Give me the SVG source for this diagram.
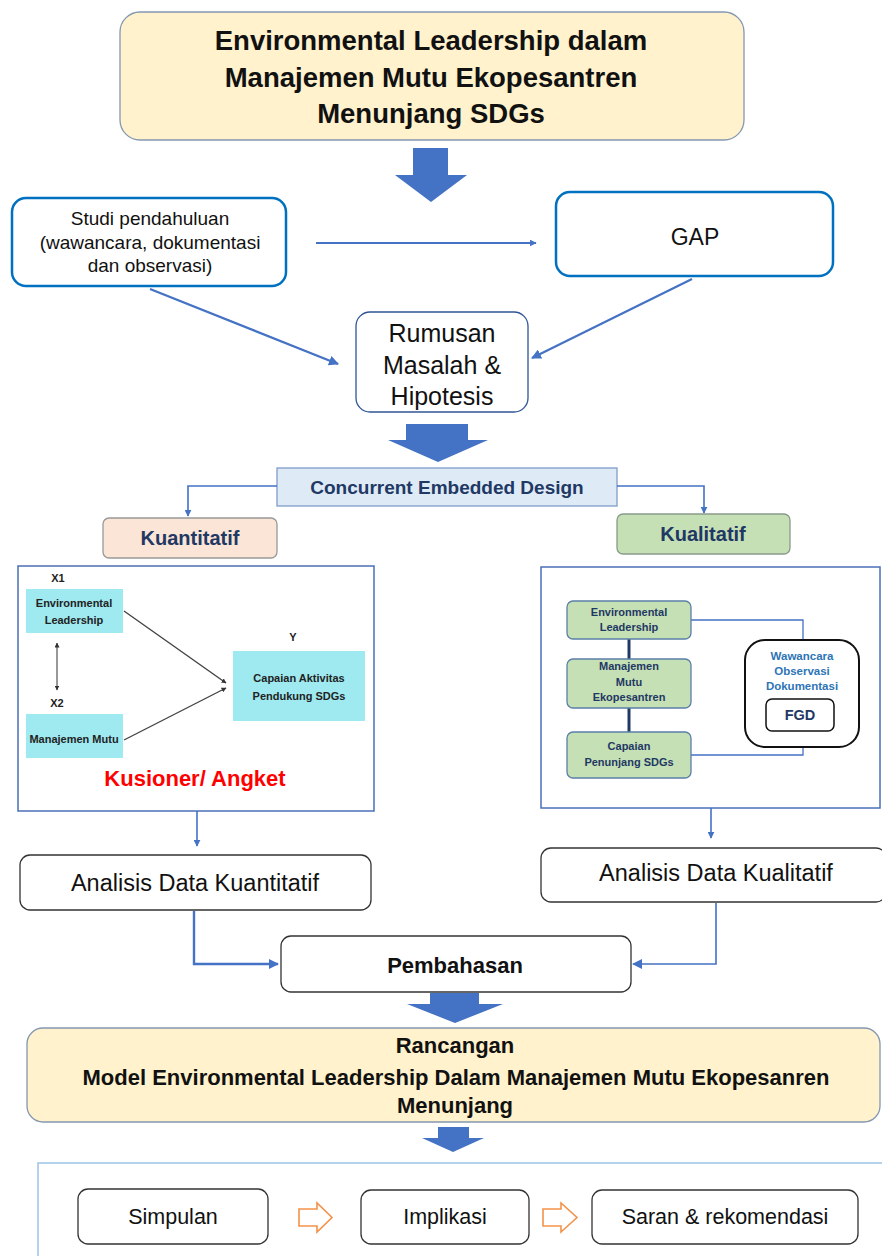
<svg xmlns="http://www.w3.org/2000/svg" width="882" height="1256" viewBox="0 0 882 1256">
<defs>
<style>
text{font-family:"Liberation Sans",Arial,sans-serif;text-anchor:middle;}
.t{font-weight:bold;font-size:27.5px;fill:#111;}
.n{font-size:19px;fill:#111;}
.big{font-size:25px;fill:#111;}
.an{font-size:23.5px;fill:#111;}
.bt{font-size:21.5px;fill:#111;}
.rc{font-size:22px;font-weight:bold;fill:#111;}
.navy{font-weight:bold;fill:#1F3864;}
.bar{fill:#4472C4;}
.conn{fill:none;stroke:#4472C4;stroke-width:1.6;}
.box{fill:#fff;stroke:#333;stroke-width:1.3;}
.cyan{fill:#9EEAF0;}
.green{fill:#C5E0B4;stroke:#5B7FA8;stroke-width:1.3;}
.small{font-size:11px;fill:#222;font-weight:bold;}
.gs{font-size:11px;}
.wb{font-size:11.5px;font-weight:bold;fill:#2E75B6;}
.orange{fill:#fff;stroke:#F4924A;stroke-width:1.6;}
</style>
<marker id="ah" viewBox="0 0 10 10" refX="9" refY="5" markerWidth="7" markerHeight="7" markerUnits="userSpaceOnUse" orient="auto"><path d="M0,0 L10,5 L0,10 z" fill="#4472C4"/></marker>
<marker id="ah2" viewBox="0 0 10 10" refX="9" refY="5" markerWidth="10" markerHeight="10" markerUnits="userSpaceOnUse" orient="auto"><path d="M0,0 L10,5 L0,10 z" fill="#4472C4"/></marker>
<marker id="ak" viewBox="0 0 10 10" refX="9" refY="5" markerWidth="5" markerHeight="5" markerUnits="userSpaceOnUse" orient="auto"><path d="M0,0 L10,5 L0,10 z" fill="#333"/></marker>
<marker id="aks" viewBox="0 0 10 10" refX="1" refY="5" markerWidth="5" markerHeight="5" markerUnits="userSpaceOnUse" orient="auto"><path d="M10,0 L0,5 L10,10 z" fill="#333"/></marker>
</defs>
<rect width="882" height="1256" fill="#fff"/>

<g id="title">
<rect x="120" y="12" width="624" height="128" rx="20" fill="#FFF2CC" stroke="#8497B0" stroke-width="1.3"/>
<text class="t" x="431" y="50">Environmental Leadership dalam</text>
<text class="t" x="431" y="87">Manajemen Mutu Ekopesantren</text>
<text class="t" x="431" y="123">Menunjang SDGs</text>
</g>

<g id="block-arrows">
<path class="bar" d="M413,148 H448 V175 H467 L431,202 L395,175 H413 Z"/>
<path class="bar" d="M406,424 H468 V440 H488 L438,462 L388,440 H406 Z"/>
<path class="bar" d="M430,993 H479 V1004 H503 L455,1023 L407,1004 H430 Z"/>
<path class="bar" d="M438,1127 H469 V1138 H484 L453,1152 L422,1138 H438 Z"/>
</g>

<g id="studi">
<rect x="12" y="198" width="274" height="88" rx="14" fill="#fff" stroke="#0070C0" stroke-width="2.5"/>
<text class="n" x="150" y="225">Studi pendahuluan</text>
<text class="n" x="150" y="249">(wawancara, dokumentasi</text>
<text class="n" x="150" y="272">dan observasi)</text>
</g>

<g id="gap">
<rect x="556" y="192" width="277" height="84" rx="14" fill="#fff" stroke="#0070C0" stroke-width="2.5"/>
<text x="695" y="245" style="font-size:23px;fill:#111">GAP</text>
</g>

<g id="rumusan">
<rect x="356" y="312" width="172" height="100" rx="14" fill="#fff" stroke="#2F5597" stroke-width="1.3"/>
<text class="big" x="442" y="342">Rumusan</text>
<text class="big" x="442" y="374">Masalah &amp;</text>
<text class="big" x="442" y="405">Hipotesis</text>
</g>

<g id="concurrent">
<rect x="277" y="468" width="340" height="38" fill="#DEEBF7" stroke="#7F9CC8" stroke-width="1.3"/>
<text class="navy" x="447" y="494" style="font-size:19px">Concurrent Embedded Design</text>
</g>

<g id="kuantitatif">
<rect x="103" y="518" width="174" height="40" rx="6" fill="#FBE5D6" stroke="#999" stroke-width="1.3"/>
<text class="navy" x="190" y="545" style="font-size:20px">Kuantitatif</text>
</g>

<g id="kualitatif">
<rect x="617" y="514" width="173" height="40" rx="6" fill="#C5E0B4" stroke="#8a9a8a" stroke-width="1.3"/>
<text class="navy" x="703" y="541" style="font-size:20px">Kualitatif</text>
</g>

<g id="panel-kuantitatif">
<rect x="18" y="566" width="356" height="245" fill="#fff" stroke="#4A6FB8" stroke-width="1.5"/>
<text class="small" x="58" y="582">X1</text>
<rect class="cyan" x="26" y="589" width="97" height="44"/>
<text class="small" x="74" y="607">Environmental</text>
<text class="small" x="74" y="624">Leadership</text>
<line x1="57" y1="643" x2="57" y2="690" stroke="#333" stroke-width="1" marker-start="url(#aks)" marker-end="url(#ak)"/>
<text class="small" x="57" y="707">X2</text>
<rect class="cyan" x="26" y="714" width="97" height="44"/>
<text class="small" x="74" y="743">Manajemen Mutu</text>
<text class="small" x="293" y="641">Y</text>
<rect class="cyan" x="233" y="651" width="132" height="70"/>
<text class="small" x="299" y="682">Capaian Aktivitas</text>
<text class="small" x="299" y="700">Pendukung SDGs</text>
<line x1="124" y1="611" x2="226" y2="683" stroke="#444" stroke-width="1.4" marker-end="url(#ak)"/>
<line x1="124" y1="740" x2="226" y2="688" stroke="#444" stroke-width="1.4" marker-end="url(#ak)"/>
<text x="195" y="786" style="font-size:22px;font-weight:bold;fill:#FF0000">Kusioner/ Angket</text>
</g>

<g id="panel-kualitatif">
<rect x="541" y="567" width="339" height="241" fill="#fff" stroke="#4A6FB8" stroke-width="1.5"/>
<line x1="629" y1="639" x2="629" y2="659" stroke="#1F3864" stroke-width="3"/>
<line x1="629" y1="708" x2="629" y2="732" stroke="#1F3864" stroke-width="3"/>
<polyline class="conn" points="691,620 803,620 803,640" style="stroke-width:1.3"/>
<polyline class="conn" points="691,755 803,755 803,747" style="stroke-width:1.3"/>
<rect class="green" x="567" y="601" width="124" height="38" rx="6"/>
<text class="navy gs" x="629" y="616">Environmental</text>
<text class="navy gs" x="629" y="631">Leadership</text>
<rect class="green" x="567" y="659" width="124" height="49" rx="6"/>
<text class="navy gs" x="629" y="670">Manajemen</text>
<text class="navy gs" x="629" y="686">Mutu</text>
<text class="navy gs" x="629" y="701">Ekopesantren</text>
<rect class="green" x="567" y="732" width="124" height="46" rx="6"/>
<text class="navy gs" x="629" y="750">Capaian</text>
<text class="navy gs" x="629" y="766">Penunjang SDGs</text>
<rect x="745" y="640" width="114" height="107" rx="20" fill="#fff" stroke="#111" stroke-width="2"/>
<text class="wb" x="802" y="660">Wawancara</text>
<text class="wb" x="802" y="675">Observasi</text>
<text class="wb" x="802" y="690">Dokumentasi</text>
<rect x="766" y="699" width="68" height="32" rx="6" fill="#fff" stroke="#111" stroke-width="1.5"/>
<text class="navy" x="800" y="720" style="font-size:14.5px">FGD</text>
</g>

<g id="analisis-kuantitatif">
<rect class="box" x="20" y="855" width="351" height="55" rx="10"/>
<text class="an" x="195" y="891">Analisis Data Kuantitatif</text>
</g>

<g id="analisis-kualitatif">
<rect class="box" x="541" y="848" width="345" height="54" rx="10"/>
<text class="an" x="716" y="881">Analisis Data Kualitatif</text>
</g>

<g id="pembahasan">
<rect class="box" x="281" y="936" width="350" height="56" rx="10"/>
<text x="455" y="973" style="font-size:22px;font-weight:bold;fill:#111">Pembahasan</text>
</g>

<g id="rancangan">
<rect x="27" y="1028" width="853" height="94" rx="16" fill="#FFF2CC" stroke="#8497B0" stroke-width="1.3"/>
<text class="rc" x="455" y="1053">Rancangan</text>
<text class="rc" x="456" y="1085">Model Environmental Leadership Dalam Manajemen Mutu Ekopesanren</text>
<text class="rc" x="455" y="1113">Menunjang</text>
</g>

<g id="bottom-panel">
<rect x="38" y="1163" width="860" height="110" fill="#fff" stroke="#9DC3E6" stroke-width="1.5"/>
</g>

<g id="simpulan">
<rect class="box" x="78" y="1189" width="190" height="55" rx="10"/>
<text class="bt" x="173" y="1224">Simpulan</text>
</g>
<g id="implikasi">
<rect class="box" x="361" y="1190" width="168" height="54" rx="10"/>
<text class="bt" x="445" y="1224">Implikasi</text>
</g>
<g id="saran">
<rect class="box" x="592" y="1190" width="266" height="54" rx="10"/>
<text class="bt" x="725" y="1224">Saran &amp; rekomendasi</text>
</g>

<g id="connectors">
<line class="conn" x1="316" y1="243" x2="536" y2="243" marker-end="url(#ah)" style="stroke-width:2"/>
<line class="conn" x1="150" y1="289" x2="338" y2="364" marker-end="url(#ah2)" style="stroke-width:2.2"/>
<line class="conn" x1="692" y1="279" x2="532" y2="358" marker-end="url(#ah2)" style="stroke-width:2.2"/>
<polyline class="conn" points="277,486 188,486 188,516" marker-end="url(#ah)"/>
<polyline class="conn" points="617,486 704,486 704,513" marker-end="url(#ah)"/>
<line class="conn" x1="197" y1="811" x2="197" y2="846" marker-end="url(#ah)"/>
<line class="conn" x1="711" y1="808" x2="711" y2="838" marker-end="url(#ah)"/>
<polyline class="conn" points="194,911 194,964 278,964" marker-end="url(#ah2)" style="stroke-width:2.4"/>
<polyline class="conn" points="716,903 716,964 633,964" marker-end="url(#ah2)"/>
<path class="orange" d="M299,1209 H317 V1203 L332,1217.5 L317,1232 V1226 H299 Z"/>
<path class="orange" d="M543,1209 H561 V1203 L577,1217.5 L561,1232 V1226 H543 Z"/>
</g>
</svg>
